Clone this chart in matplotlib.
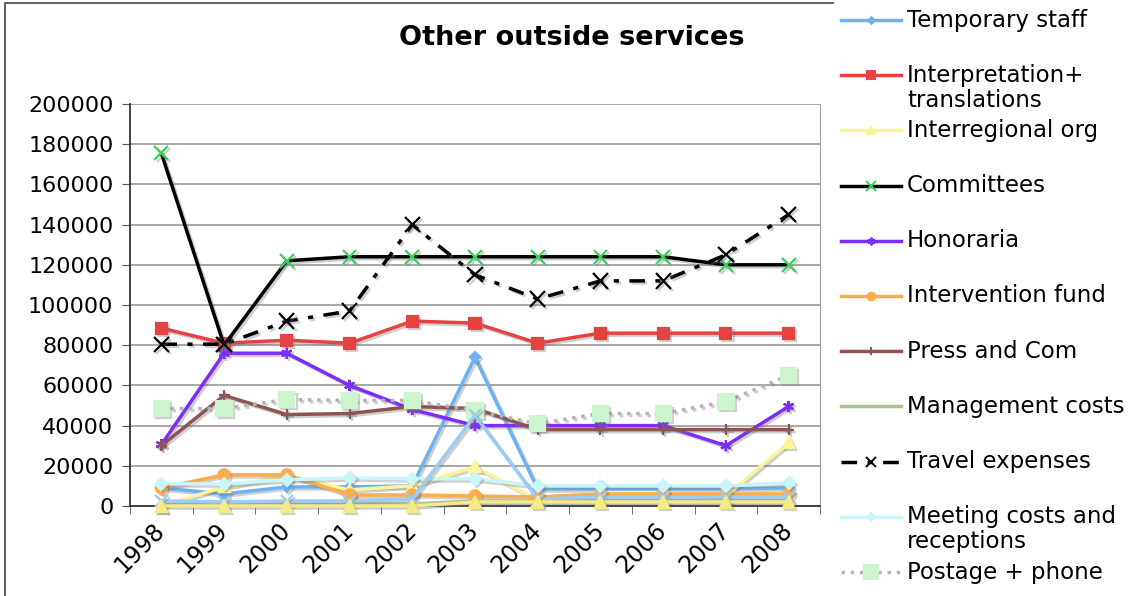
import matplotlib
matplotlib.use("Agg")
import matplotlib.pyplot as plt
import matplotlib.patheffects as pe
from matplotlib.transforms import ScaledTranslation

years = ['1998', '1999', '2000', '2001', '2002', '2003', '2004', '2005', '2006', '2007', '2008']

temporary_staff = [9000, 6000, 9500, 9500, 10000, 74000, 8500, 8500, 8500, 8500, 9000]
interpretation = [88500, 81000, 82500, 81000, 92000, 91000, 81000, 86000, 86000, 86000, 86000]
interregional = [0, 9500, 15000, 8000, 10000, 19500, 3000, 6500, 6500, 5000, 31500]
committees = [175500, 80000, 122000, 124000, 124000, 124000, 124000, 124000, 124000, 120000, 120000]
honoraria = [30500, 76000, 76000, 60000, 48000, 40000, 40000, 40000, 40000, 30000, 49500]
intervention = [9000, 15500, 15500, 5500, 5500, 5000, 4500, 6000, 6000, 6000, 6000]
press_com = [30000, 55000, 45500, 46000, 49500, 48500, 38000, 38000, 38000, 38000, 38000]
management = [1000, 1000, 1000, 1000, 1000, 2500, 2500, 2500, 2500, 2500, 2500]
travel = [80500, 80500, 92000, 97000, 140000, 115000, 103000, 112000, 112000, 125000, 145000]
meeting = [11000, 11000, 13000, 14000, 13500, 13500, 10000, 10000, 10000, 10000, 11500]
postage = [48500, 48500, 53000, 52500, 52500, 47500, 41000, 46000, 46000, 52000, 65000]
# two more series are drawn in the chart but their legend entries are cut off
unnamed_a = [2500, 2000, 2500, 2500, 3500, 45000, 3500, 4500, 4500, 4500, 4500]
unnamed_b = [0, 0, 0, 0, 0, 2000, 2000, 2000, 2000, 2000, 2000]

series = [
    # label, values, line color, style, marker, marker color, marker size
    ('Temporary staff', temporary_staff, '#6cb2f2', '-', 'D', '#6cb2f2', 5),
    ('Interpretation+\ntranslations', interpretation, '#e64242', '-', 's', '#e64242', 8),
    ('Interregional org', interregional, '#fbf59a', '-', '^', '#fbf59a', 8),
    ('Committees', committees, 'black', '-', 'x', '#3ad15a', 10),
    ('Honoraria', honoraria, '#7e2cf8', '-', (6, 2, 0), '#7e2cf8', 8),
    ('Intervention fund', intervention, '#fdac4c', '-', 'o', '#fdac4c', 8),
    ('Press and Com', press_com, '#8e5454', '-', '+', '#8e5454', 8),
    ('Management costs', management, '#a9c292', '-', None, '#a9c292', 0),
    ('Travel expenses', travel, 'black', (0, (4.5, 3, 1.5, 3)), 'x', 'black', 11),
    ('Meeting costs and\nreceptions', meeting, '#c9f6fc', '-', 'D', '#c9f6fc', 6),
    ('Postage + phone', postage, '#b4b4b4', ':', 's', '#cdf5cd', 11),
    (None, unnamed_a, '#9ccbf4', '-', 'x', '#9ccbf4', 9),
    (None, unnamed_b, '#f6ea86', '-', '^', '#f6ea86', 8),
]

W, H = 1134, 596
fig = plt.figure(figsize=(W / 100, H / 100), dpi=100)
ax = fig.add_axes([130 / W, 90 / H, 690 / W, 402 / H])

shadow = [pe.SimpleLineShadow(offset=(1.5, -1.5), shadow_color='#777777', alpha=0.35), pe.Normal()]
x = list(range(len(years)))
for label, vals, col, ls, mk, mcol, ms in series:
    ax.plot(x, vals, color=col, linestyle=ls, linewidth=2.5, marker=mk, markersize=ms,
            markerfacecolor=mcol, markeredgecolor=mcol, markeredgewidth=1.6,
            path_effects=shadow, clip_on=False, zorder=3)

ax.set_xlim(-0.5, len(years) - 0.5)
ax.set_ylim(0, 200000)
ax.set_yticks(range(0, 200001, 20000))
ax.set_yticklabels([str(v) for v in range(0, 200001, 20000)], fontsize=16)
ax.yaxis.grid(True, color='#a0a0a0', linewidth=1.3)
ax.set_axisbelow(True)
ax.set_xticks(x)
ax.set_xticklabels(years, fontsize=17, rotation=45, ha='right', va='center', rotation_mode='anchor')
shift = ScaledTranslation(-17 / 100, 0, fig.dpi_scale_trans)
for t in ax.get_xticklabels():
    t.set_transform(t.get_transform() + shift)
ax.set_xticks([i - 0.5 for i in range(len(years) + 1)], minor=True)
ax.tick_params(axis='x', which='major', length=0, pad=15)
ax.tick_params(axis='x', which='minor', length=6, color='#555555')
ax.tick_params(axis='y', length=6, color='#555555', pad=6)
ax.spines['top'].set_visible(False)
ax.spines['right'].set_color('#a0a0a0')
ax.spines['left'].set_color('#333333')
ax.spines['bottom'].set_color('#333333')
ax.spines['left'].set_linewidth(1.3)
ax.spines['bottom'].set_linewidth(1.3)

fig.text(572 / W, 1 - 38 / H, 'Other outside services', ha='center', va='center',
         fontsize=19.5, fontweight='bold')

# legend drawn by hand so that two-line labels keep the handle on the first line
lax = fig.add_axes([0, 0, 1, 1])
lax.set_xlim(0, W)
lax.set_ylim(H, 0)
lax.axis('off')

# outer chart frame (only its left and top edges are inside the picture)
lax.plot([5, 5, 833], [H + 5, 3, 3], color='#444444', linewidth=1.2, clip_on=False)

named = [s for s in series if s[0] is not None]
for i, (label, vals, col, ls, mk, mcol, ms) in enumerate(named):
    y = 20 + 55.2 * i
    lax.plot([841, 901], [y, y], color=col, linestyle=ls, linewidth=2.5)
    if mk is not None:
        lax.plot([871], [y], marker=mk, markersize=ms * 0.7 if mk != 's' or i != 10 else 10,
                 color=mcol, markeredgewidth=1.4, linestyle='none')
    for j, line in enumerate(label.split('\n')):
        lax.text(907, y + 25 * j, line, fontsize=16.5, va='center', ha='left')

fig.savefig('out.png', dpi=100)
